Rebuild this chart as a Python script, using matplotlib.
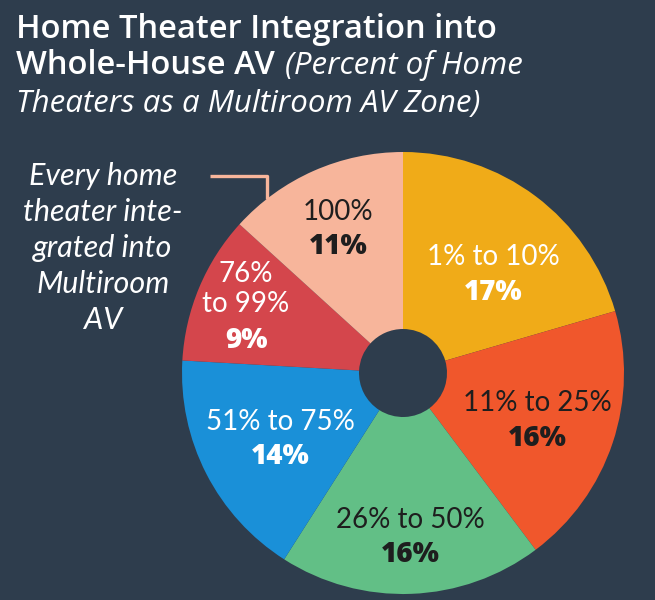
import matplotlib
matplotlib.use("Agg")
import matplotlib.pyplot as plt

# data
ranges = ["1% to 10%", "11% to 25%", "26% to 50%", "51% to 75%", "76%\nto 99%", "100%"]
shares = [17, 16, 16, 14, 9, 11]
colors = ["#f0ab18", "#f0572c", "#62bf86", "#1a90d8", "#d4464c", "#f7b59b"]
text_colors = ["white", "#1e1e1e", "#1e1e1e", "white", "white", "#1e1e1e"]
# label anchor (pixel x, pixel y of range text) for each slice
label_pos = [(493, 257), (537, 403), (410, 520), (280, 422), (246, 289), (338, 212)]

bg = "#2e3d4d"
W, H = 655, 600
cx, cy, R, r_hole = 403, H - 373, 221, 44

fig = plt.figure(figsize=(W / 100, H / 100), dpi=100)
fig.patch.set_facecolor(bg)
ax = fig.add_axes([0, 0, 1, 1])
ax.set_facecolor(bg)

ax.pie(shares, colors=colors, startangle=90, counterclock=False,
       center=(cx, cy), radius=R,
       wedgeprops=dict(width=R - r_hole, linewidth=0))

ax.set_xlim(0, W)
ax.set_ylim(0, H)
ax.set_aspect("equal")
ax.axis("off")

lab_font = "Lato"
for name, val, tc, (px, py) in zip(ranges, shares, text_colors, label_pos):
    nl = name.count("\n")
    ax.text(px, H - py, name, ha="center", va="center", color=tc,
            fontsize=20, family=lab_font, linespacing=1.2)
    off = 35 if nl == 0 else 51
    ax.text(px, H - py - off, f"{val}%", ha="center", va="center", color=tc,
            fontsize=20, family="Open Sans", fontweight="heavy")

# title
fig.text(16 / W, 1 - 38 / H, "Home Theater Integration into", color="white",
         fontsize=23.5, family="Open Sans", fontweight="semibold", va="baseline")
fig.text(16 / W, 1 - 74 / H, "Whole-House AV", color="white",
         fontsize=23.5, family="Open Sans", fontweight="semibold", va="baseline")
fig.text(285 / W, 1 - 74 / H, "(Percent of Home", color="white",
         fontsize=22.5, family="Open Sans", style="italic", va="baseline")
fig.text(16 / W, 1 - 112 / H, "Theaters as a Multiroom AV Zone)", color="white",
         fontsize=22.5, family="Open Sans", style="italic", va="baseline")

# side note with connector
ax.text(103, H - 248, "Every home\ntheater inte-\ngrated into\nMultiroom\nAV",
        ha="center", va="center", color="white", fontsize=22, family=lab_font,
        style="italic", linespacing=1.34)
ax.plot([210, 267, 267], [H - 176, H - 176, H - 199], color="#f7b59b", lw=2.4,
        solid_capstyle="butt")

fig.savefig("out.png", dpi=100, facecolor=bg)
